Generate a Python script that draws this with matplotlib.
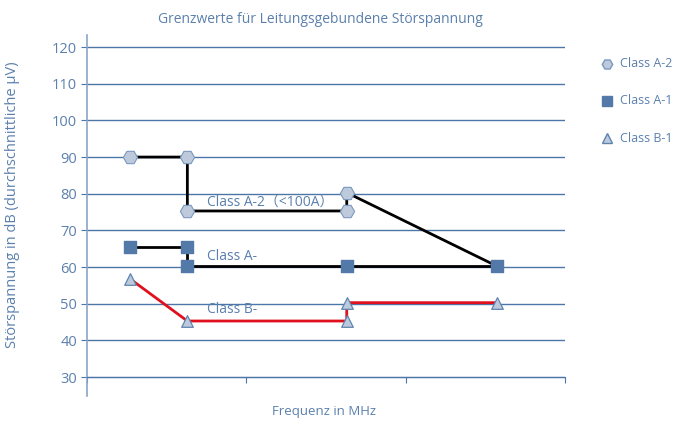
import matplotlib
matplotlib.use("Agg")
import matplotlib.pyplot as plt

# Frequency positions (category axis units) and limits in dB
x_a2 = [0.27, 0.63, 0.63, 1.63, 1.63, 2.57]
y_a2 = [90, 90, 75.3, 75.3, 80.3, 60.3]
x_a1 = [0.27, 0.63, 0.63, 1.63, 2.57]
y_a1 = [65.5, 65.5, 60.3, 60.3, 60.3]
x_b1 = [0.27, 0.63, 1.63, 1.63, 2.57]
y_b1 = [56.8, 45.3, 45.3, 50.3, 50.3]

series_names = ["Class A-2", "Class A-1", "Class B-1"]
notes = ["Class A-2\uff08<100A\uff09", "Class A-", "Class B-"]
note_y = [77.5, 62.8, 48.3]
y_ticks = [30, 40, 50, 60, 70, 80, 90, 100, 110, 120]

blue = "#4d76a8"
text_col = "#5b80ad"
light = "#bccadc"

plt.rcParams['font.family'] = ['Open Sans', 'Noto Sans CJK SC', 'DejaVu Sans']

fig = plt.figure(figsize=(6.9, 4.26), dpi=100)
ax = fig.add_axes([0.126, 0.070, 0.693, 0.848])

ax.set_xlim(0, 3)
ax.set_ylim(24.8, 123.3)

for y in y_ticks:
    ax.axhline(y, color=blue, lw=1.0, zorder=1)

# lines
ax.plot(x_a2, y_a2, color="black", lw=2.0, zorder=2)
ax.plot(x_a1, y_a1, color="black", lw=2.0, zorder=2)
ax.plot(x_b1, y_b1, color="#e0101e", lw=2.0, zorder=2)

# markers (last A-2 point hidden under A-1 square)
ax.scatter(x_a2[:-1], y_a2[:-1], marker="H", s=105, facecolor=light,
           edgecolor="#7a98bd", lw=0.8, zorder=3)
ax.scatter(x_a1, y_a1, marker="s", s=65, facecolor="#5279a8",
           edgecolor="#5279a8", zorder=3)
ax.scatter(x_b1, y_b1, marker="^", s=70, facecolor=light,
           edgecolor="#5f84b0", lw=0.9, zorder=3)

for t, yy in zip(notes, note_y):
    ax.text(0.755, yy, t, color=text_col, fontsize=10, va="center", ha="left", zorder=4)

ax.spines['top'].set_visible(False)
ax.spines['right'].set_visible(False)
ax.spines['left'].set_color("#8aa6c8")
ax.spines['left'].set_linewidth(1.2)
ax.spines['bottom'].set_position(('data', 30))
ax.spines['bottom'].set_color(blue)

ax.set_xticks([0, 1, 2, 3])
ax.set_xticklabels([])
ax.tick_params(axis='x', length=4, color=blue, direction='out')
ax.set_yticks(y_ticks)
ax.set_yticklabels([str(v) for v in y_ticks])
ax.tick_params(axis='y', length=4, color=blue, labelcolor=text_col, labelsize=10.5, pad=3)

fig.text(0.465, 0.955, "Grenzwerte für Leitungsgebundene Störspannung", color=text_col,
         fontsize=10, ha="center", va="center")
fig.text(0.47, 0.035, "Frequenz in MHz", color=text_col, fontsize=9.5, ha="center", va="center")
fig.text(0.018, 0.52, "Störspannung in dB (durchschnittliche µV)", color=text_col,
         fontsize=10.5, rotation=90, ha="center", va="center")

# legend
leg_markers = [("H", light, "#7a98bd", 7.5), ("s", "#5279a8", "#5279a8", 6.5), ("^", light, "#5f84b0", 7)]
leg_y = [0.850, 0.763, 0.676]
for (m, fc, ec, ms), name, ly in zip(leg_markers, series_names, leg_y):
    fig.lines.append(plt.Line2D([0.879], [ly], marker=m, markersize=ms, markerfacecolor=fc,
                                markeredgecolor=ec, linestyle="none", transform=fig.transFigure))
    fig.text(0.898, ly, name, color=text_col, fontsize=9, va="center", ha="left")

fig.savefig("out.png", dpi=100)
